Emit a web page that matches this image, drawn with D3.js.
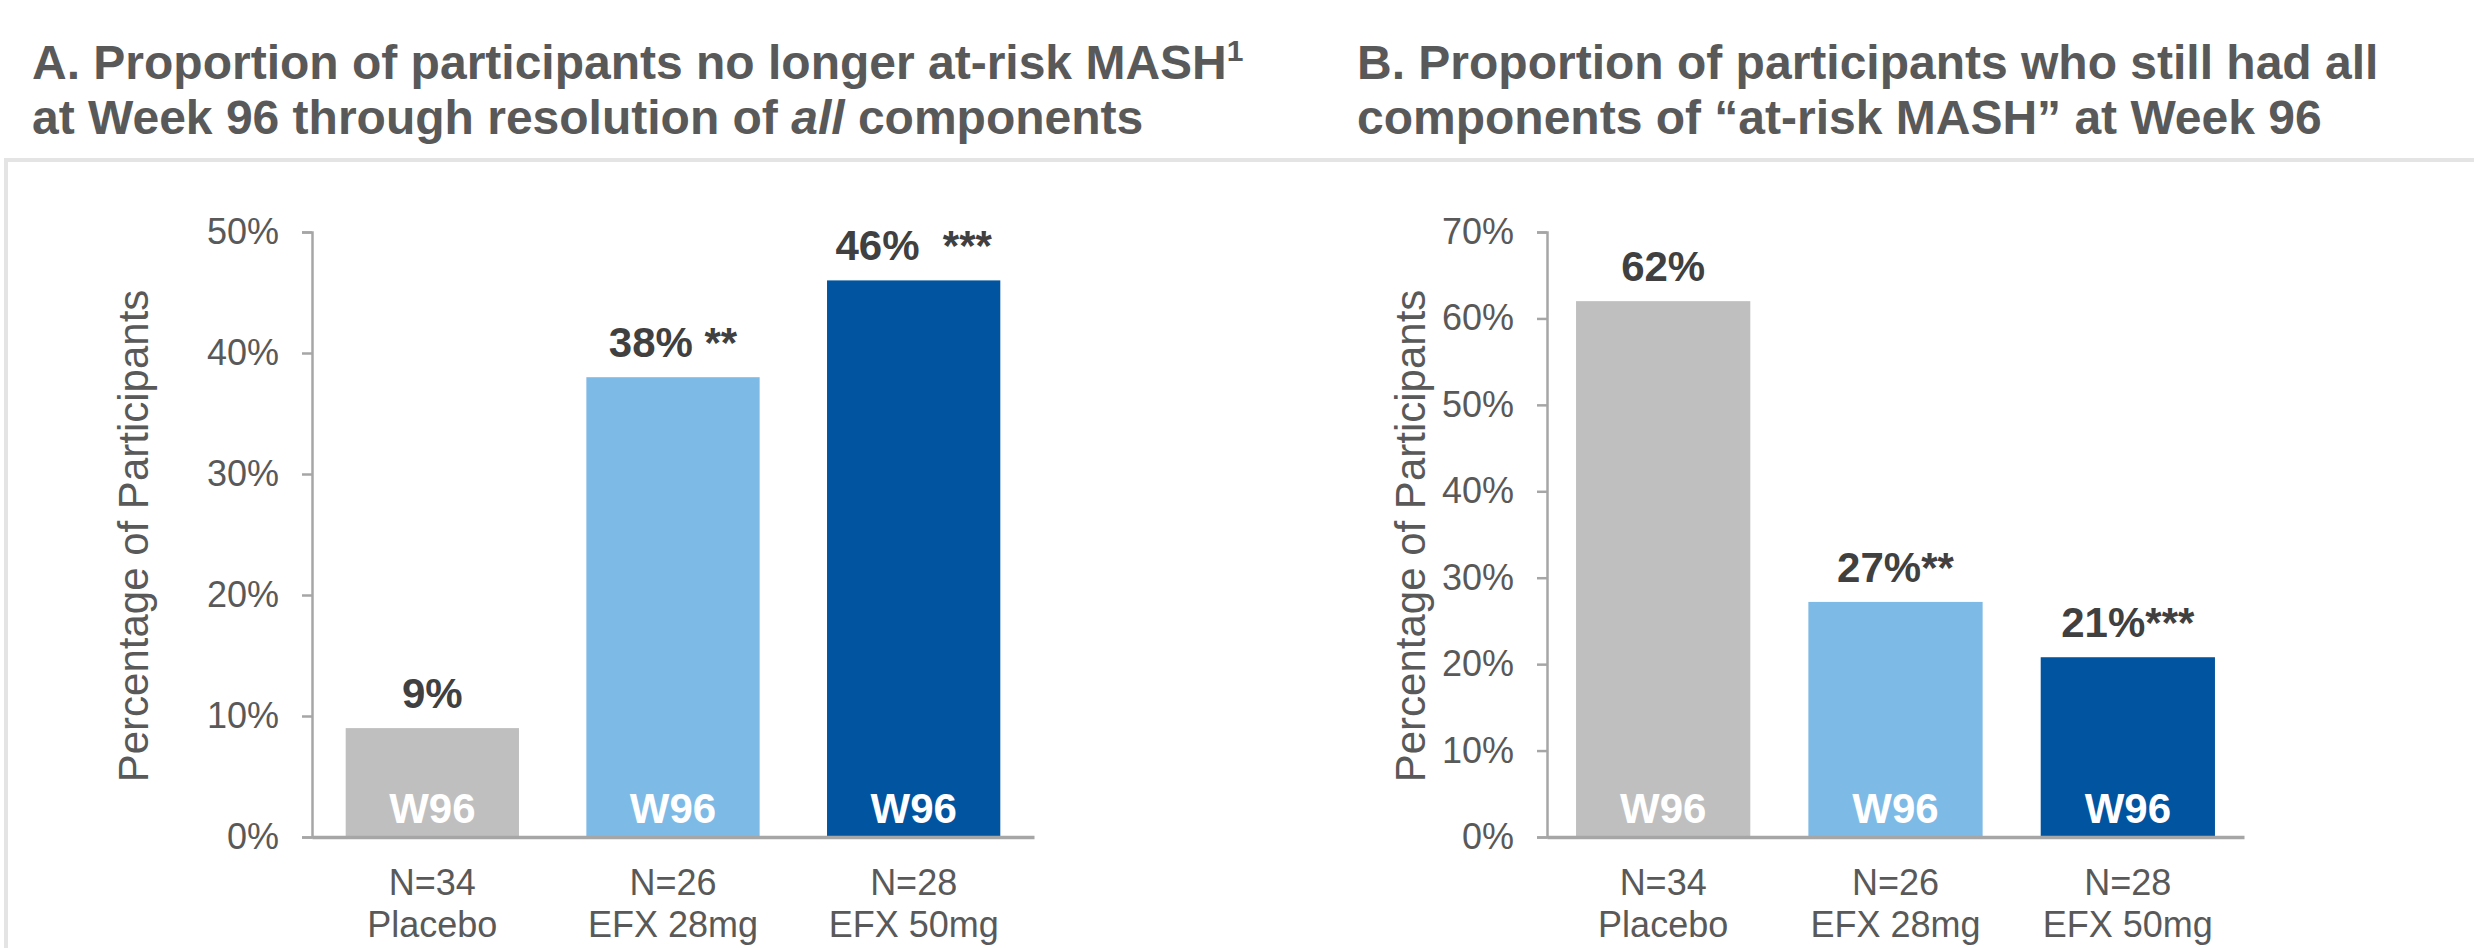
<!DOCTYPE html>
<html>
<head>
<meta charset="utf-8">
<script src="https://cdn.jsdelivr.net/npm/d3@7"></script>
<style>
  body { margin: 0; background: #fff; }
  text { font-family: "Liberation Sans", Arial, sans-serif; }
</style>
</head>
<body>
<div id="container"></div>
<script>
let width = 2474;
let height = 948;

// categories
var groups = ["Placebo", "EFX 28mg", "EFX 50mg"];
var groupN = ["N=34", "N=26", "N=28"];
var barText = "W96";

// A: no longer at-risk MASH at W96
var resolvedPct = [0.09, 0.38, 0.46];
var resolvedStars = ["", " **", "  ***"];
var ticksA = [0, 0.1, 0.2, 0.3, 0.4, 0.5];

// B: still had all components at W96
var stillPct = [0.62, 0.272, 0.208];
var stillStars = ["", "**", "***"];
var ticksB = [0, 0.1, 0.2, 0.3, 0.4, 0.5, 0.6, 0.7];

var barColors = ["#bfbfbf", "#7ebae6", "#0054a0"];

let viz = d3.select("#container").append("svg")
    .attr("width", width)
    .attr("height", height)
;

// light gray frame round the charts
viz.append("rect")
  .attr("x", 6)
  .attr("y", 160)
  .attr("width", width + 20)
  .attr("height", height)
  .attr("fill", "none")
  .attr("stroke", "#e4e4e4")
  .attr("stroke-width", 4)
;

// titles, one text per line
function title(x, lines) {
  lines.forEach(function(parts, i) {
    let t = viz.append("text")
      .attr("x", x)
      .attr("y", 79 + i * 55)
      .style("font-size", "48px")
      .style("font-weight", "bold")
      .style("fill", "#595959");
    parts.forEach(function(p) {
      let ts = t.append("tspan").text(p.t);
      if (p.italic) ts.style("font-style", "italic");
      if (p.sup) ts.style("font-size", "30px").attr("dy", -18);
    });
  });
}

title(32, [
  [{t: "A. Proportion of participants no longer at-risk MASH"}, {t: "1", sup: true}],
  [{t: "at Week 96 through resolution of "}, {t: "all", italic: true}, {t: " components"}]
]);
title(1357, [
  [{t: "B. Proportion of participants who still had all"}],
  [{t: "components of \u201cat-risk MASH\u201d at Week 96"}]
]);

function drawPanel(opt) {
  let g = viz.append("g");

  let y = d3.scaleLinear()
    .domain([0, opt.max])
    .range([837, 232]);

  let x = d3.scaleBand()
    .domain(groups)
    .range([opt.left, opt.right])
    .paddingInner(opt.pad)
    .paddingOuter(opt.pad / 2);

  // y axis
  let yAxis = g.append("g")
    .attr("transform", "translate(" + opt.left + ",0)")
    .call(d3.axisLeft(y)
      .tickValues(opt.ticks)
      .tickFormat(d3.format(".0%"))
      .tickSize(10)
      .tickSizeOuter(10)
      .tickPadding(23));
  yAxis.select(".domain").attr("stroke", "#a6a6a6").attr("stroke-width", 2.5);
  yAxis.selectAll(".tick line").attr("stroke", "#a6a6a6").attr("stroke-width", 2.5);
  yAxis.selectAll(".tick text")
    .style("font-size", "36px")
    .style("font-family", "'Liberation Sans', Arial, sans-serif")
    .attr("fill", "#595959");

  g.append("text")
    .attr("transform", "translate(" + opt.titleX + ",536) rotate(-90)")
    .attr("text-anchor", "middle")
    .style("font-size", "42px")
    .style("fill", "#595959")
    .text("Percentage of Participants");

  // bars
  g.selectAll(".bar")
    .data(opt.values)
    .enter()
    .append("rect")
      .attr("class", "bar")
      .attr("x", function(d, i){ return x(groups[i]); })
      .attr("y", function(d){ return y(d); })
      .attr("width", x.bandwidth())
      .attr("height", function(d){ return y(0) - y(d); })
      .attr("fill", function(d, i){ return barColors[i]; })
  ;

  // baseline
  let xAxis = g.append("g")
    .attr("transform", "translate(0," + y(0) + ")")
    .call(d3.axisBottom(x).tickSize(0).tickSizeOuter(0).tickFormat(""));
  xAxis.select(".domain").attr("stroke", "#a6a6a6").attr("stroke-width", 3.5);

  // value labels
  g.selectAll(".val")
    .data(opt.values)
    .enter()
    .append("text")
      .attr("class", "val")
      .attr("x", function(d, i){ return x(groups[i]) + x.bandwidth() / 2; })
      .attr("y", function(d){ return y(d) - 20; })
      .attr("text-anchor", "middle")
      .style("font-size", "42px")
      .style("font-weight", "bold")
      .style("fill", "#404040")
      .style("white-space", "pre")
      .text(function(d, i){ return d3.format(".0%")(d) + opt.stars[i]; })
  ;

  // W96 inside bars
  g.selectAll(".wk")
    .data(opt.values)
    .enter()
    .append("text")
      .attr("class", "wk")
      .attr("x", function(d, i){ return x(groups[i]) + x.bandwidth() / 2; })
      .attr("y", y(0) - 14)
      .attr("text-anchor", "middle")
      .style("font-size", "42px")
      .style("font-weight", "bold")
      .style("fill", "#ffffff")
      .text(barText)
  ;

  // category labels
  let cat = g.selectAll(".cat")
    .data(groups)
    .enter()
    .append("text")
      .attr("class", "cat")
      .attr("text-anchor", "middle")
      .style("font-size", "36px")
      .style("fill", "#595959")
  ;
  cat.append("tspan")
    .attr("x", function(d){ return x(d) + x.bandwidth() / 2; })
    .attr("y", 895)
    .text(function(d, i){ return groupN[i]; });
  cat.append("tspan")
    .attr("x", function(d){ return x(d) + x.bandwidth() / 2; })
    .attr("y", 937)
    .text(function(d){ return d; });
}

drawPanel({
  left: 312, right: 1034, pad: 0.28, max: 0.5, ticks: ticksA,
  values: resolvedPct, stars: resolvedStars, titleX: 148
});
drawPanel({
  left: 1547, right: 2244, pad: 0.25, max: 0.7, ticks: ticksB,
  values: stillPct, stars: stillStars, titleX: 1425
});
</script>
</body>
</html>
